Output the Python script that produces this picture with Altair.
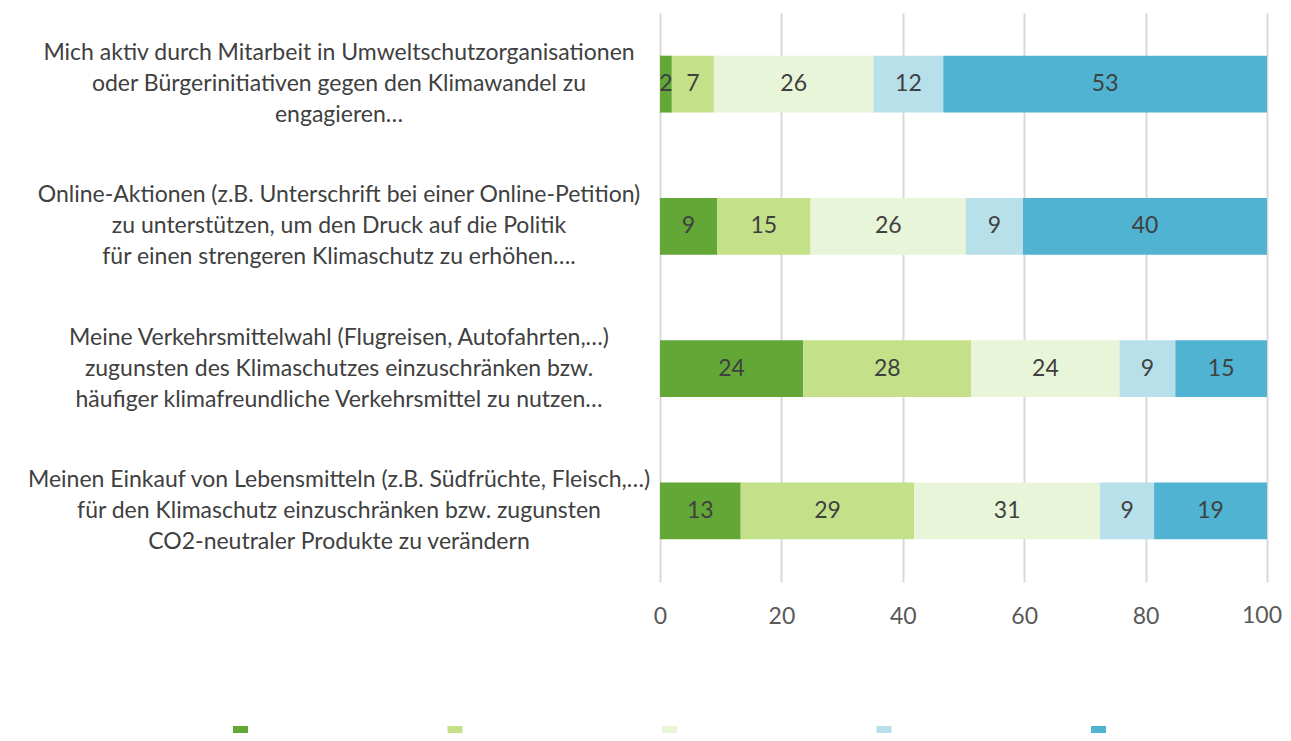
import altair as alt
import pandas as pd

items = [
    "Mich aktiv durch Mitarbeit in Umweltschutzorganisationen\noder Bürgerinitiativen gegen den Klimawandel zu\nengagieren…",
    "Online-Aktionen (z.B. Unterschrift bei einer Online-Petition)\nzu unterstützen, um den Druck auf die Politik\nfür einen strengeren Klimaschutz zu erhöhen….",
    "Meine Verkehrsmittelwahl (Flugreisen, Autofahrten,…)\nzugunsten des Klimaschutzes einzuschränken bzw.\nhäufiger klimafreundliche Verkehrsmittel zu nutzen…",
    "Meinen Einkauf von Lebensmitteln (z.B. Südfrüchte, Fleisch,…)\nfür den Klimaschutz einzuschränken bzw. zugunsten\nCO2-neutraler Produkte zu verändern",
]
categories = ["Kategorie 1", "Kategorie 2", "Kategorie 3", "Kategorie 4", "Kategorie 5"]
colors = ["#63A737", "#C4E18A", "#E9F5D8", "#B8E0EA", "#4FB3D1"]
x_ticks = [0, 20, 40, 60, 80, 100]

values = [
    [1.95, 6.93, 26.29, 11.5, 53.33],
    [9.4, 15.4, 25.6, 9.4, 40.2],
    [23.6, 27.7, 24.4, 9.2, 15.1],
    [13.3, 28.6, 30.6, 8.9, 18.6],
]

rows = []
for i, it in enumerate(items):
    for k, c in enumerate(categories):
        rows.append({"item": it, "key": f"k{i}", "cat": c, "order": k, "value": values[i][k]})
df = pd.DataFrame(rows)
keys = [f"k{i}" for i in range(len(items))]
labels_df = pd.DataFrame({"key": keys, "item": items})
last_tick_df = pd.DataFrame({"t": [x_ticks[-1]]})

FONT = "Lato"
TXT = "#404040"
FS = 23
H = 569
LPAD = 23

yscale = alt.Scale(domain=keys, paddingInner=0.6, paddingOuter=0.3)
xscale = alt.Scale(domain=[0, 100], nice=False)

base = alt.Chart(df).transform_stack(
    stack="value", groupby=["key"], as_=["x0", "x1"], sort=[alt.SortField("order", order="ascending")]
)

bars = base.mark_bar().encode(
    y=alt.Y("key:N", scale=yscale, axis=None, sort=keys),
    x=alt.X("x0:Q", scale=xscale,
            axis=alt.Axis(values=x_ticks, grid=True, gridColor="#d9d9d9", gridWidth=2,
                          domain=False, ticks=False, labelFontSize=FS, labelColor="#595959",
                          labelFont=FONT, labelPadding=LPAD, labelFlush=False, title=None,
                          labelExpr=f"datum.value === {x_ticks[-1]} ? '' : datum.label")),
    x2="x1:Q",
    color=alt.Color("cat:N", scale=alt.Scale(domain=categories, range=colors),
                    legend=alt.Legend(orient="none", legendX=-427, legendY=713, direction="horizontal",
                                      columns=5, title=None, labelExpr="''", symbolType="square",
                                      symbolSize=225, symbolStrokeWidth=0, labelOffset=0,
                                      columnPadding=199.5, padding=0, symbolOpacity=1)),
)

last_tick = alt.Chart(last_tick_df).mark_text(
    fontSize=FS, font=FONT, color="#595959", baseline="top", align="center", dx=-5
).encode(
    x=alt.X("t:Q", scale=xscale),
    y=alt.value(H + LPAD),
    text=alt.Text("t:Q"),
)

seg_text = base.transform_calculate(mid="(datum.x0 + datum.x1) / 2").mark_text(
    fontSize=FS, font=FONT, color=TXT, baseline="middle", align="center"
).encode(
    y=alt.Y("key:N", scale=yscale, sort=keys),
    x=alt.X("mid:Q"),
    text=alt.Text("value:Q", format=".0f"),
)

ylabels = alt.Chart(labels_df).transform_calculate(
    lines="split(datum.item, '\\n')"
).mark_text(
    fontSize=FS, font=FONT, color=TXT, align="center", baseline="middle", lineHeight=31, dy=-31
).encode(
    y=alt.Y("key:N", scale=yscale, sort=keys),
    x=alt.value(-321),
    text="lines:N",
)

chart = alt.layer(bars, seg_text, ylabels, last_tick).properties(
    width=607, height=H,
    autosize=alt.AutoSizeParams(type="none"),
    padding={"left": 652, "top": 5, "right": 16, "bottom": 151},
    background="white",
).configure_view(stroke=None)

chart.save("out.html", embed_options={"renderer": "svg", "actions": False})
